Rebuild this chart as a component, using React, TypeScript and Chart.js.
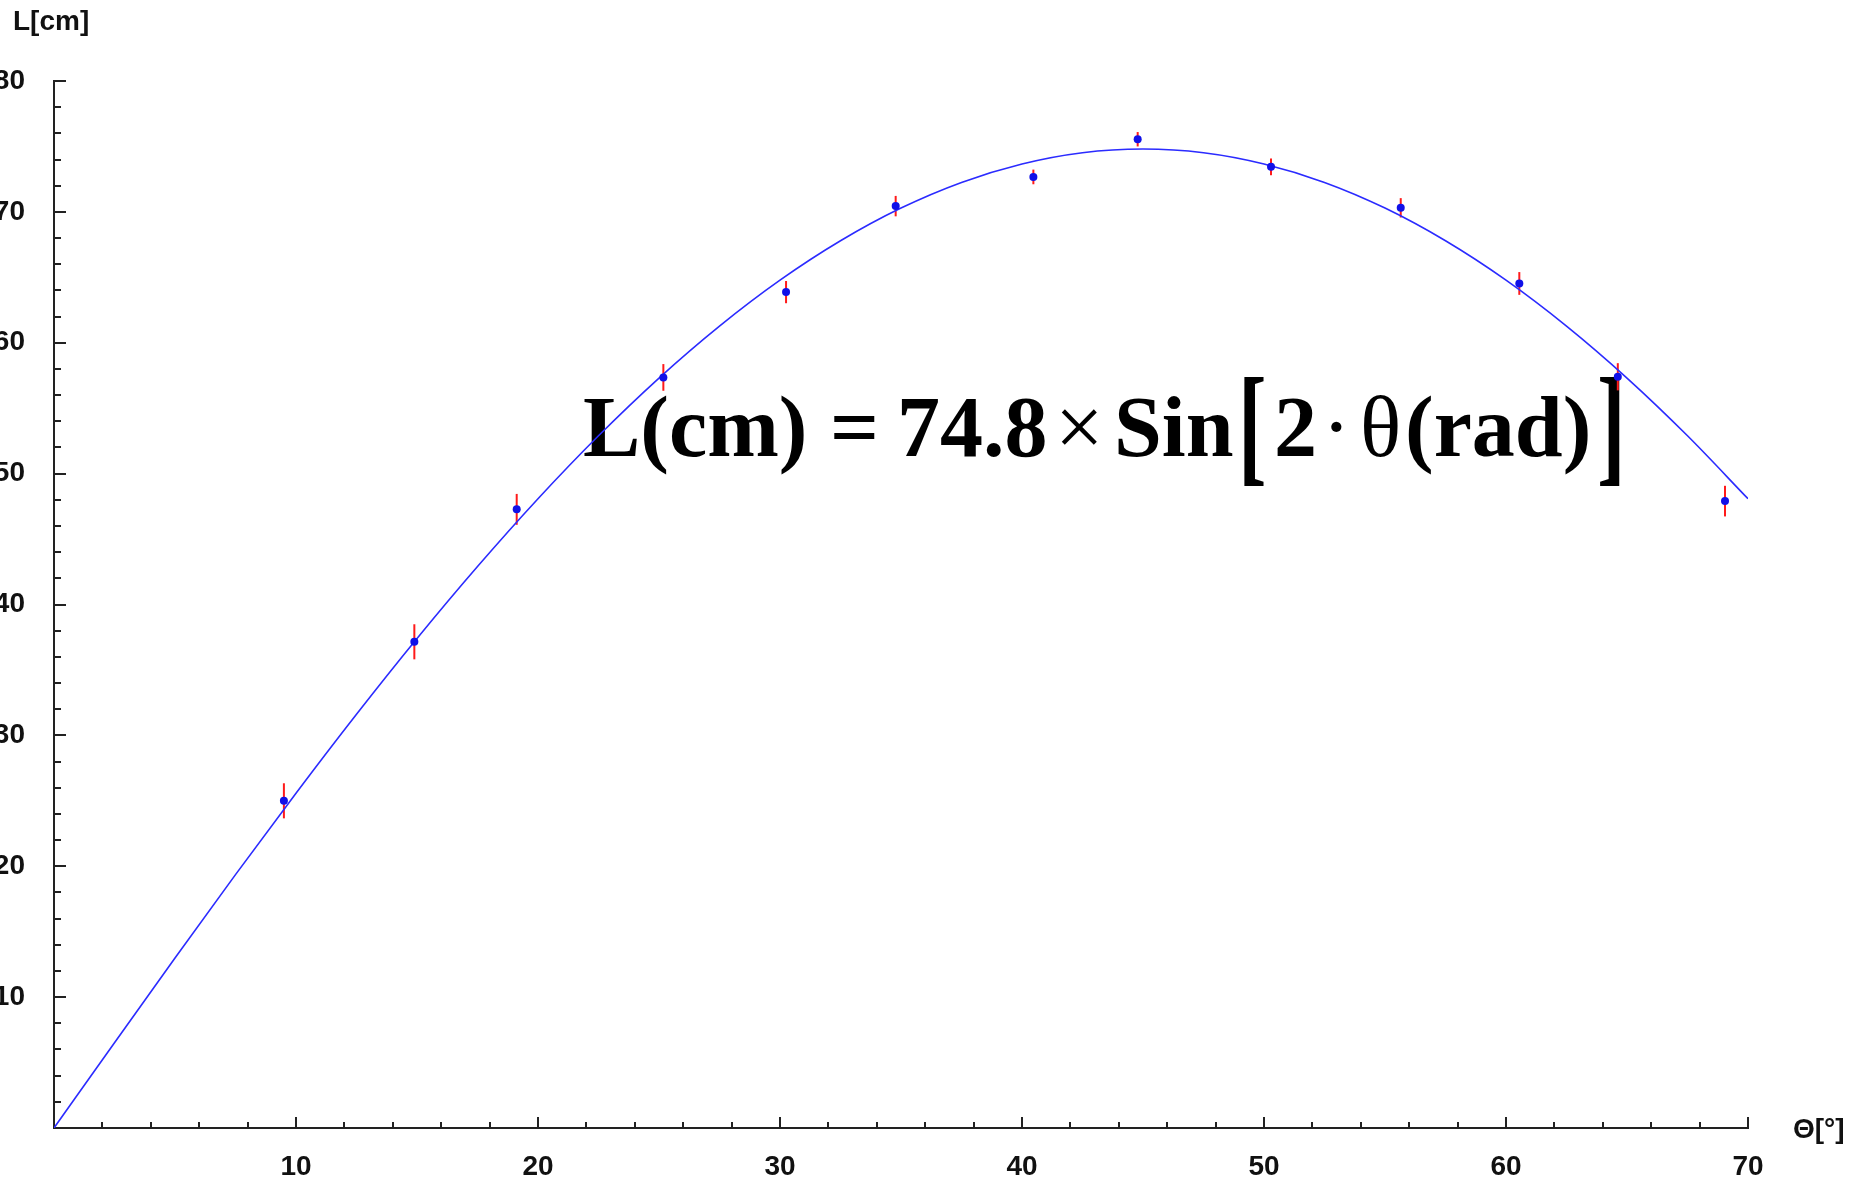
import React, { useEffect, useRef } from 'react';
import { Chart, registerables } from 'chart.js';

Chart.register(...registerables);

// Measured data (angle in degrees, range L in cm, error in cm)
const angles = [9.5, 14.89, 19.12, 25.18, 30.25, 34.78, 40.47, 44.78, 50.29, 55.65, 60.55, 64.62, 69.05];
const lengths = [25.0, 37.15, 47.27, 57.35, 63.87, 70.44, 72.67, 75.55, 73.44, 70.31, 64.53, 57.4, 47.9];
const errors = [1.34, 1.34, 1.18, 1.02, 0.85, 0.78, 0.56, 0.55, 0.64, 0.74, 0.87, 1.04, 1.17];

// Fitted curve
const fitAngles = [0, 2.5, 5, 7.5, 10, 12.5, 15, 17.5, 20, 22.5, 25, 27.5, 30, 32.5, 35, 37.5, 40, 42.5, 45, 47.5, 50, 52.5, 55, 57.5, 60, 62.5, 65, 67.5, 70];
const fitLengths = [0, 6.52, 12.99, 19.36, 25.58, 31.61, 37.4, 42.9, 48.08, 52.89, 57.3, 61.27, 64.78, 67.79, 70.29, 72.25, 73.66, 74.52, 74.8, 74.52, 73.66, 72.25, 70.29, 67.79, 64.78, 61.27, 57.3, 52.89, 48.08];

const xTickLabels = [10, 20, 30, 40, 50, 60, 70];
const yTickLabels = [10, 20, 30, 40, 50, 60, 70, 80];

const SANS = '"Liberation Sans", Arial, sans-serif';
const SERIF = '"Liberation Serif", "Times New Roman", serif';

const decorPlugin = {
  id: 'decor',
  beforeDatasetsDraw(chart: any) {
    const ctx: CanvasRenderingContext2D = chart.ctx;
    const xs = chart.scales.x;
    const ys = chart.scales.y;
    ctx.save();
    // equation
    ctx.fillStyle = '#000';
    ctx.textAlign = 'left';
    ctx.textBaseline = 'alphabetic';
    const base = 456;
    const B = `bold 86px ${SERIF}`;
    const R = `86px ${SERIF}`;
    const put = (t: string, x: number, font: string) => {
      ctx.font = font;
      ctx.fillText(t, x, base);
    };
    const bracket = (t: string, x: number) => {
      ctx.save();
      ctx.font = B;
      const k = 1.535;
      ctx.translate(x, 468);
      ctx.scale(1, k);
      ctx.fillText(t, 0, 0);
      ctx.restore();
    };
    put('L(cm)', 583, B);
    put('=', 830, B);
    put('74.8', 897, B);
    put('\u00d7', 1055, R);
    put('Sin', 1114, B);
    bracket('[', 1238);
    put('2', 1274, B);
    put('\u00b7', 1322, R);
    put('\u03b8', 1360, R);
    put('(rad)', 1405, B);
    bracket(']', 1597);

    // error bars
    ctx.strokeStyle = '#ff1a1a';
    ctx.lineWidth = 2;
    for (let i = 0; i < angles.length; i++) {
      const px = xs.getPixelForValue(angles[i]);
      const y1 = ys.getPixelForValue(lengths[i] - errors[i]);
      const y2 = ys.getPixelForValue(lengths[i] + errors[i]);
      ctx.beginPath();
      ctx.moveTo(px, y1);
      ctx.lineTo(px, y2);
      ctx.stroke();
    }
    ctx.restore();
  },
  afterDraw(chart: any) {
    const ctx: CanvasRenderingContext2D = chart.ctx;
    const xs = chart.scales.x;
    const ys = chart.scales.y;
    const area = chart.chartArea;
    ctx.save();
    ctx.strokeStyle = '#222';
    ctx.lineWidth = 2;
    // x ticks (inside)
    for (let v = 2; v <= 70; v += 2) {
      const px = Math.round(xs.getPixelForValue(v));
      const len = v % 10 === 0 ? 11 : 6;
      ctx.beginPath();
      ctx.moveTo(px, area.bottom);
      ctx.lineTo(px, area.bottom - len);
      ctx.stroke();
    }
    // y ticks (inside)
    for (let v = 2; v <= 80; v += 2) {
      const py = Math.round(ys.getPixelForValue(v));
      const len = v % 10 === 0 ? 12 : 7;
      ctx.beginPath();
      ctx.moveTo(area.left, py);
      ctx.lineTo(area.left + len, py);
      ctx.stroke();
    }
    // axis titles
    ctx.fillStyle = '#111';
    ctx.font = `bold 28px ${SANS}`;
    ctx.textAlign = 'left';
    ctx.textBaseline = 'alphabetic';
    ctx.fillText('L[cm]', 13, 30);
    ctx.fillText('\u0398[\u00b0]', 1793, 1138);
    ctx.restore();
  },
};

export default function App() {
  const ref = useRef<HTMLCanvasElement>(null);
  useEffect(() => {
    const canvas = ref.current!;
    const tickFont = { family: SANS, size: 28, weight: 'bold' as const };
    const chart = new Chart(canvas, {
      type: 'scatter',
      data: {
        datasets: [
          {
            type: 'scatter',
            label: 'L',
            data: angles.map((a, i) => ({ x: a, y: lengths[i] })),
            backgroundColor: '#1010e8',
            borderColor: '#1010e8',
            pointRadius: 4,
            pointBorderWidth: 0,
          },
          {
            type: 'line',
            label: 'fit',
            data: fitAngles.map((a, i) => ({ x: a, y: fitLengths[i] })),
            borderColor: '#2b2bff',
            borderWidth: 1.6,
            pointRadius: 0,
            fill: false,
            cubicInterpolationMode: 'monotone',
          } as any,
        ],
      },
      options: {
        responsive: false,
        animation: false,
        devicePixelRatio: 1,
        layout: { padding: { top: 81, right: 110, left: 0, bottom: 0 } },
        plugins: { legend: { display: false }, tooltip: { enabled: false } },
        scales: {
          x: {
            type: 'linear',
            min: 0,
            max: 70,
            grid: { display: false, drawTicks: false },
            border: { display: true, color: '#222', width: 2 },
            ticks: { font: tickFont, color: '#111', padding: 22, maxRotation: 0, autoSkip: false },
            afterBuildTicks: (s: any) => {
              s.ticks = xTickLabels.map((v) => ({ value: v }));
            },
            afterFit: (s: any) => {
              s.height = 57;
            },
          },
          y: {
            type: 'linear',
            min: 0,
            max: 80,
            grid: { display: false, drawTicks: false },
            border: { display: true, color: '#222', width: 2 },
            ticks: { font: tickFont, color: '#111', padding: 29, autoSkip: false },
            afterBuildTicks: (s: any) => {
              s.ticks = yTickLabels.map((v) => ({ value: v }));
            },
            afterFit: (s: any) => {
              s.width = 54;
            },
          },
        },
      },
      plugins: [decorPlugin],
    } as any);
    return () => chart.destroy();
  }, []);
  return (
    <div style={{ position: 'fixed', left: 0, top: 0, width: 1858, height: 1185, background: '#fff' }}>
      <canvas ref={ref} width={1858} height={1185} style={{ display: 'block', width: 1858, height: 1185 }} />
    </div>
  );
}
